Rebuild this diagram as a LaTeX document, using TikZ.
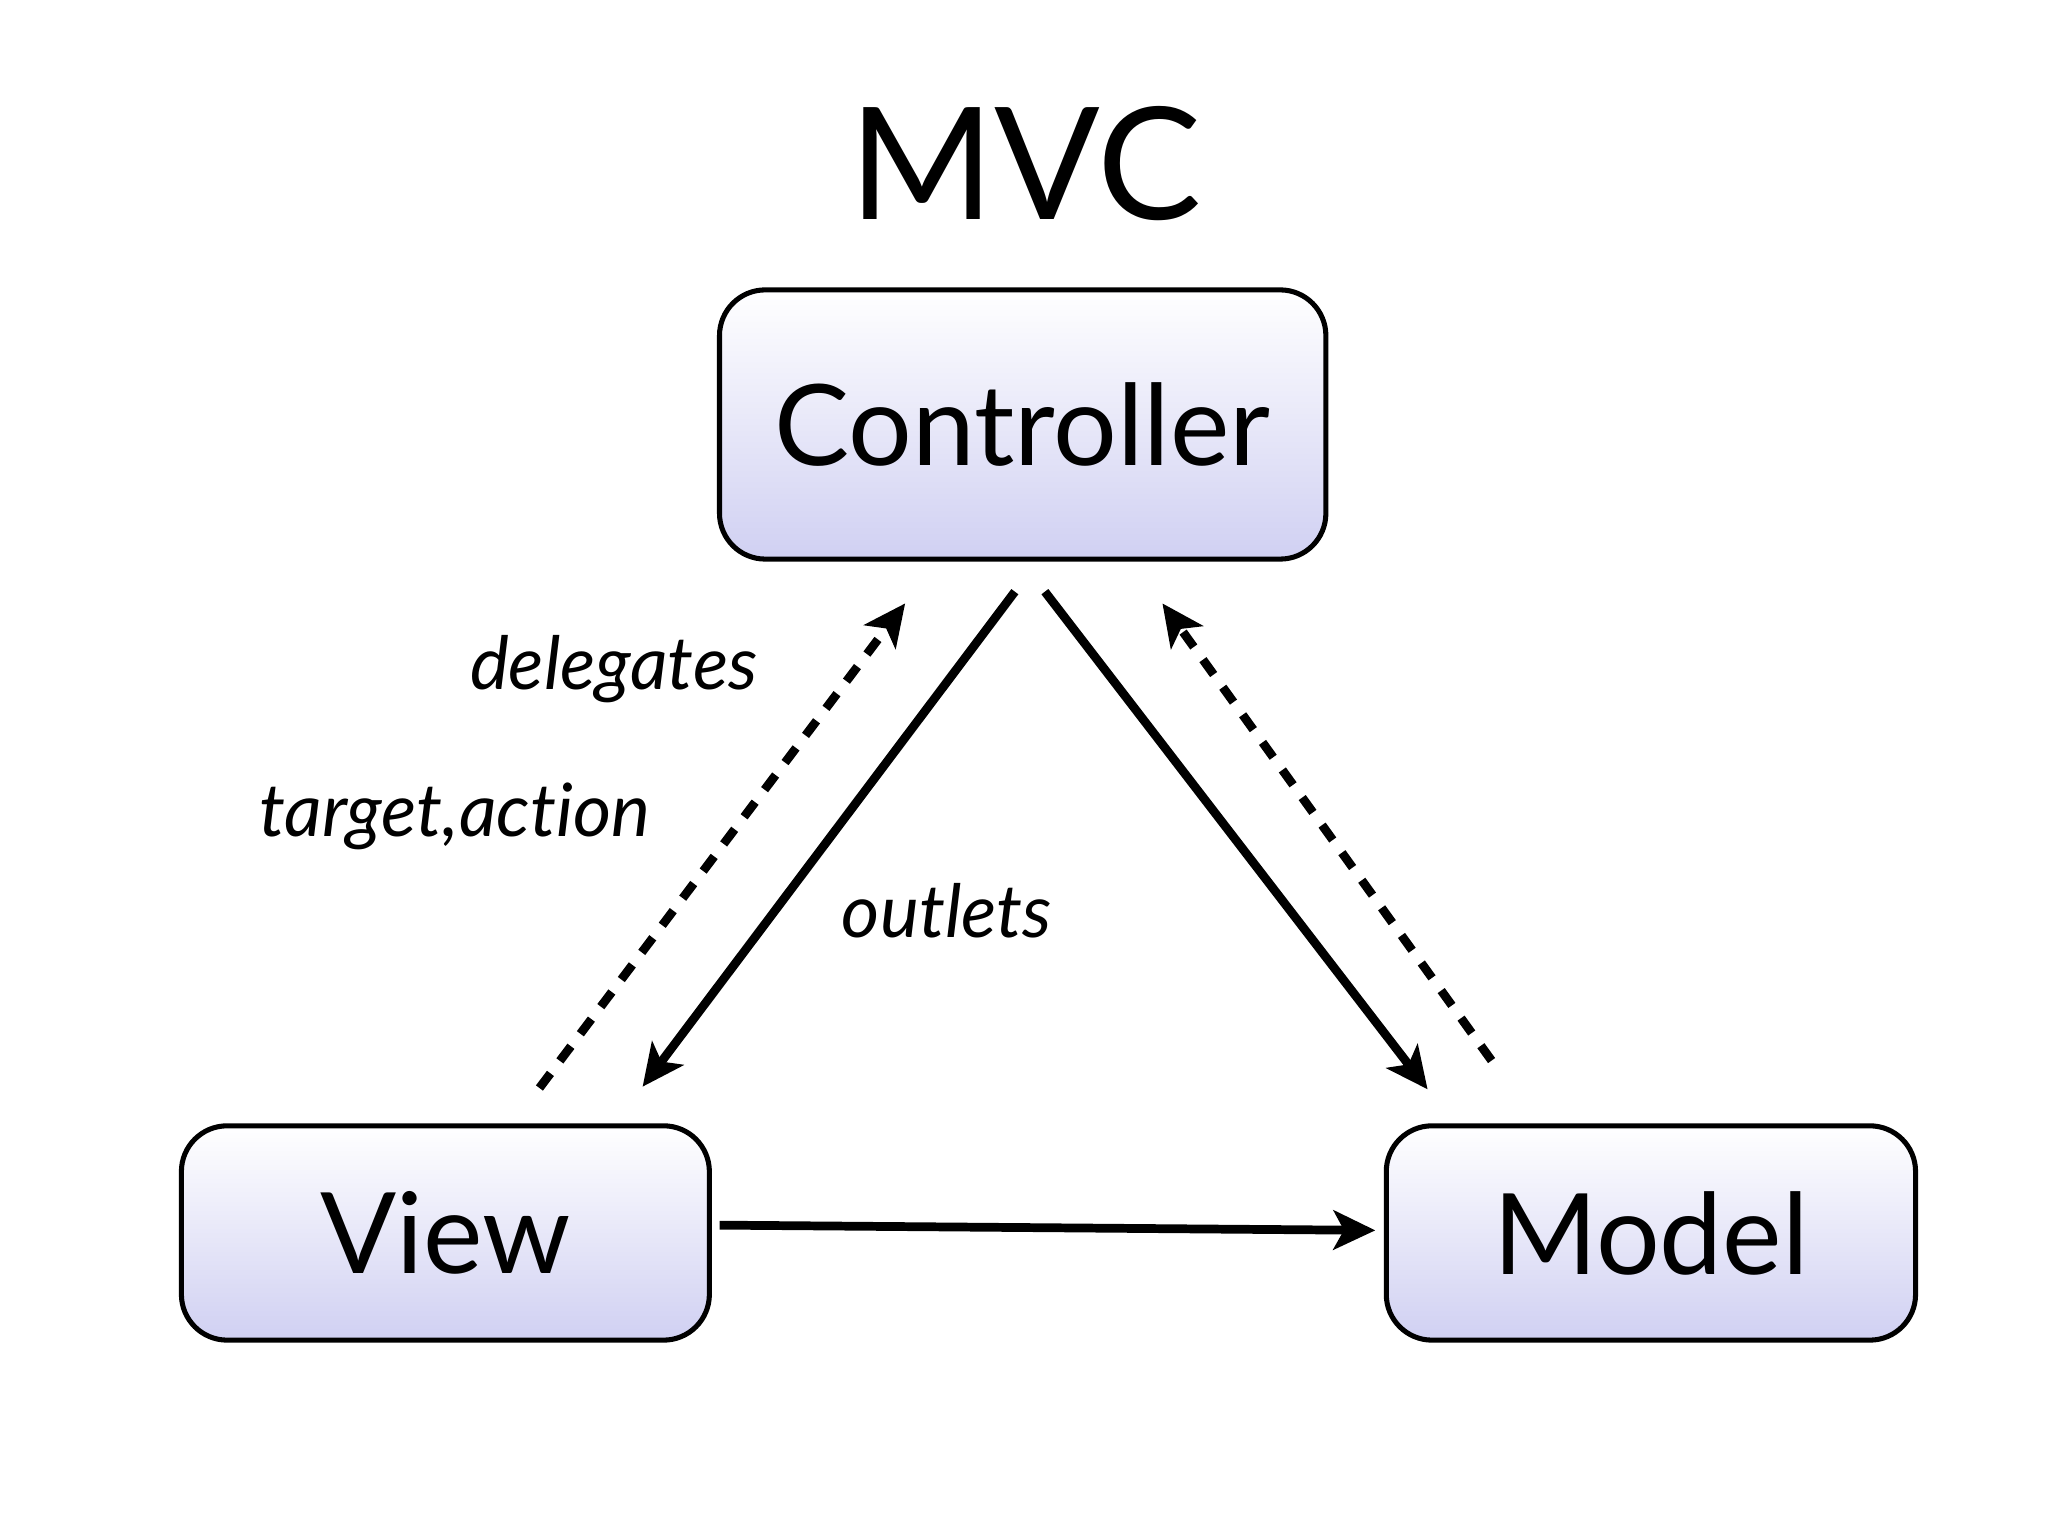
\documentclass[tikz,border=0pt]{standalone}
\usepackage{fontspec}
\setmainfont{Lato}
\usetikzlibrary{arrows.meta,shadings}
\definecolor{lav}{RGB}{208,208,242}
\begin{document}
\begin{tikzpicture}[x=0.01cm,y=-0.01cm,
  box/.style={draw=black,line width=1.1pt,rounded corners=0.35cm,top color=white,bottom color=lav,inner sep=0pt},
  con/.style={line width=1.9pt,-{Stealth[length=0.32cm,width=0.3cm,inset=0.08cm]}},
  dot/.style={con,dash pattern=on 0.14cm off 0.12cm},
  lab/.style={font=\fontsize{16}{18}\selectfont\itshape}]
\useasboundingbox (0,0) rectangle (1568,1176);
\node (title) at (785,125) {\fontsize{34}{40}\selectfont MVC};
\node[box,minimum width=4.64cm,minimum height=2.06cm,font=\fontsize{24.5}{30}\selectfont] (C) at (783,325) {Controller};
\node[box,minimum width=4.04cm,minimum height=1.64cm,font=\fontsize{24.5}{30}\selectfont] (V) at (341,944) {View};
\node[box,minimum width=4.05cm,minimum height=1.64cm,font=\fontsize{24.5}{30}\selectfont] (M) at (1264,944) {Model};
\coordinate (d1s) at (413,833); \coordinate (d1e) at (693,462);
\coordinate (s1s) at (777,453); \coordinate (s1e) at (492,832);
\coordinate (s2s) at (800,453); \coordinate (s2e) at (1093,834);
\coordinate (d2s) at (1142,812); \coordinate (d2e) at (890,462);
\coordinate (vm1) at (551,938); \coordinate (vm2) at (1053,942);
\draw[dot] (d1s) -- (d1e);
\draw[con] (s1s) -- (s1e);
\draw[con] (s2s) -- (s2e);
\draw[dot] (d2s) -- (d2e);
\draw[con] (vm1) -- (vm2);
\node[lab] (l1) at (470,512) {delegates};
\node[lab] (l2) at (348,625) {target,act\kern0pt ion};
\node[lab] (l3) at (725,697) {outlets};
\end{tikzpicture}
\end{document}
